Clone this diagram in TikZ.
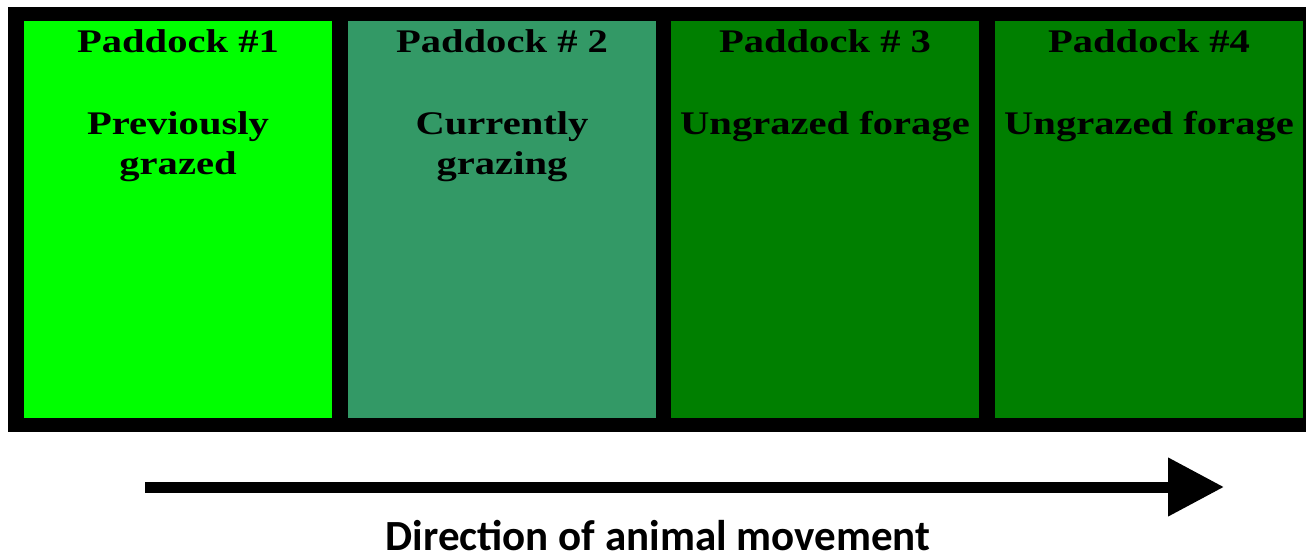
\documentclass[tikz,border=0pt]{standalone}
\usepackage{fontspec}
\usetikzlibrary{arrows.meta}
\newfontfamily\paddockfont{Liberation Serif}[FakeStretch=1.23]
\newfontfamily\captionfont{Carlito}
\definecolor{grazedgreen}{HTML}{00FF00}
\definecolor{grazinggreen}{HTML}{339966}
\definecolor{foragegreen}{HTML}{007F00}
\begin{document}
\begin{tikzpicture}[x=1pt,y=-1pt,
  paddock/.style={rectangle,inner sep=0pt,minimum width=308pt,minimum height=397pt,anchor=north west},
  ptitle/.style={anchor=base,inner sep=0pt,font=\paddockfont\bfseries\fontsize{33}{40}\selectfont},
  ptext/.style={anchor=base,inner sep=0pt,align=center,font=\paddockfont\bfseries\fontsize{33}{40}\selectfont},
  move/.style={line width=11pt,-{Triangle[length=56pt,width=56pt]}}]
\useasboundingbox (0,0) rectangle (1306,556);
% black frame holding the four paddocks
\fill[black] (8,7) rectangle (1306,432);
\node[paddock,fill=grazedgreen]  (p1) at (24,21)  {};
\node[paddock,fill=grazinggreen] (p2) at (348,21) {};
\node[paddock,fill=foragegreen]  (p3) at (671,21) {};
\node[paddock,fill=foragegreen]  (p4) at (995,21) {};
% paddock labels (base anchor of a two-line node sits on its last line)
\node[ptitle] (t1) at (178,53) {Paddock \#1};
\node[ptitle] (t2) at (502,53) {Paddock \# 2};
\node[ptitle] (t3) at (825,53) {Paddock \# 3};
\node[ptitle] (t4) at (1149,53) {Paddock \#4};
\node[ptext] (s1) at (178,175) {Previously\\grazed};
\node[ptext] (s2) at (502,175) {Currently\\grazing};
\node[ptext] (s3) at (825,135) {Ungrazed forage};
\node[ptext] (s4) at (1149,135) {Ungrazed forage};
% movement arrow and caption (no descenders in the caption)
\coordinate (a0) at (145,487);
\coordinate (a1) at (1224,487);
\draw[move] (a0) -- (a1);
\node[anchor=base,inner sep=0pt,text depth=0pt,font=\captionfont\bfseries\fontsize{43}{48}\selectfont] (cap) at (658,550) {Direction of animal movement};
\end{tikzpicture}
\end{document}
